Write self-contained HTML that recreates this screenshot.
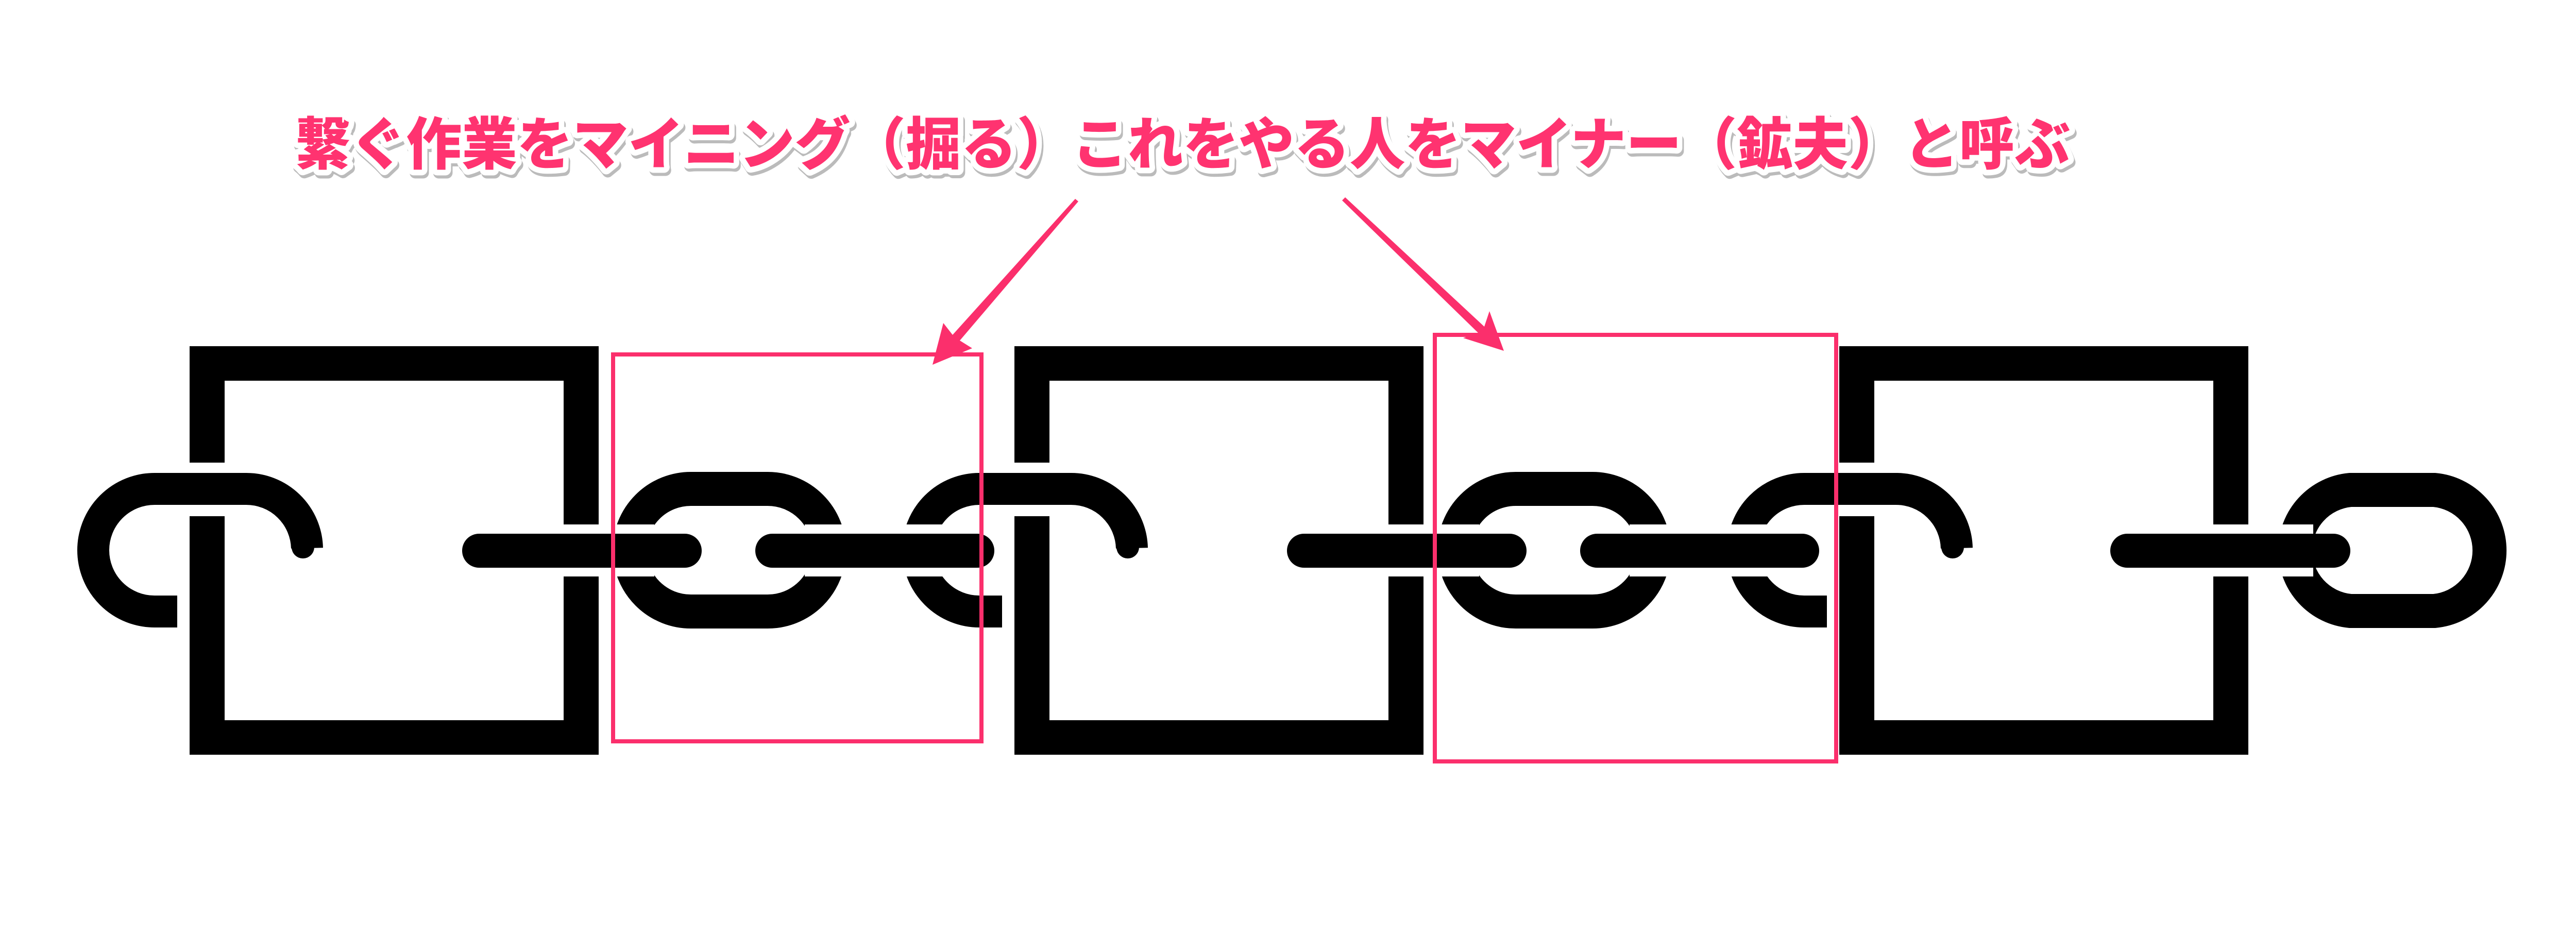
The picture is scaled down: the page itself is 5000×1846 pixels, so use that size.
<!DOCTYPE html>
<html><head><meta charset="utf-8"><style>
html,body{margin:0;padding:0;background:#fff;}
svg{display:block;}
</style></head><body>
<svg width="5000" height="1846" viewBox="0 0 5000 1846" xmlns="http://www.w3.org/2000/svg">
<rect width="5000" height="1846" fill="#fff"/>
<defs>
  <g id="cs">
    <path d="M344,1187 L300,1187 A119,119 0 0 1 300,949 L478,949 A118,118 0 0 1 596,1064" fill="none" stroke="#000" stroke-width="62"/>
    <circle cx="588" cy="1062" r="22" fill="#000"/>
    <rect x="368" y="672" width="794" height="67" fill="#000"/>
    <rect x="368" y="1398" width="794" height="67" fill="#000"/>
    <rect x="368" y="672" width="68" height="226" fill="#000"/>
    <rect x="368" y="1002" width="68" height="463" fill="#000"/>
    <rect x="1094" y="672" width="68" height="346" fill="#000"/>
    <rect x="1094" y="1119" width="68" height="346" fill="#000"/>
  </g>
  <g id="link">
    <path d="M1341,949 L1490,949 A119,119 0 0 1 1490,1187 L1341,1187 A119,119 0 0 1 1341,949 Z" fill="none" stroke="#000" stroke-width="66"/>
  </g>
</defs>
<use href="#cs"/>
<use href="#cs" x="1601"/>
<use href="#cs" x="3202"/>
<use href="#link"/>
<use href="#link" x="1601"/>
<!-- final link -->
<path d="M4562,951 L4725,951 A118,118 0 0 1 4725,1186 L4562,1186 A118,118 0 0 1 4562,951 Z" fill="none" stroke="#000" stroke-width="66"/>

<!-- white gaps where bars pass -->
<g fill="#fff">
  <rect x="1180" y="1018" width="90" height="101"/>
  <rect x="1562" y="1018" width="90" height="101"/>
  <rect x="1745" y="1018" width="90" height="101"/>
  <rect x="2781" y="1018" width="90" height="101"/>
  <rect x="3163" y="1018" width="90" height="101"/>
  <rect x="3346" y="1018" width="90" height="101"/>
  <rect x="4400" y="1018" width="90" height="101"/>
</g>
<!-- bars -->
<g fill="#000">
  <rect x="897" y="1036" width="465" height="66" rx="33" ry="33"/>
  <rect x="1466" y="1036" width="464" height="66" rx="33" ry="33"/>
  <rect x="2498" y="1036" width="465" height="66" rx="33" ry="33"/>
  <rect x="3067" y="1036" width="464" height="66" rx="33" ry="33"/>
  <rect x="4096" y="1036" width="466" height="66" rx="33" ry="33"/>
</g>

<!-- pink boxes -->
<rect x="1190" y="688" width="715" height="751" fill="none" stroke="#fb2f6c" stroke-width="8"/>
<rect x="2785" y="650" width="779" height="828" fill="none" stroke="#fb2f6c" stroke-width="8"/>

<!-- arrows -->
<polygon points="2087,386 2093,391 1863,661 1887,676 1810,708 1831,627 1849,650" fill="#fb2f6c"/>
<polygon points="2605,389 2611,383 2881,634 2891,604 2919,681 2840,656 2869,646" fill="#fb2f6c"/>

<!-- title -->
<g font-family="'Liberation Sans','Noto Sans CJK JP',sans-serif" font-weight="900" font-size="110">
  <text x="576" y="325" textLength="3445" lengthAdjust="spacingAndGlyphs" fill="#bbb" stroke="#bbb" stroke-width="22" stroke-linejoin="round">繋ぐ作業をマイニング（掘る）これをやる人をマイナー（鉱夫）と呼ぶ</text>
  <text x="573" y="319" textLength="3445" lengthAdjust="spacingAndGlyphs" fill="#fff" stroke="#fff" stroke-width="22" stroke-linejoin="round">繋ぐ作業をマイニング（掘る）これをやる人をマイナー（鉱夫）と呼ぶ</text>
  <text x="573" y="319" textLength="3445" lengthAdjust="spacingAndGlyphs" fill="#ff3370">繋ぐ作業をマイニング（掘る）これをやる人をマイナー（鉱夫）と呼ぶ</text>
</g>
</svg>
</body></html>
